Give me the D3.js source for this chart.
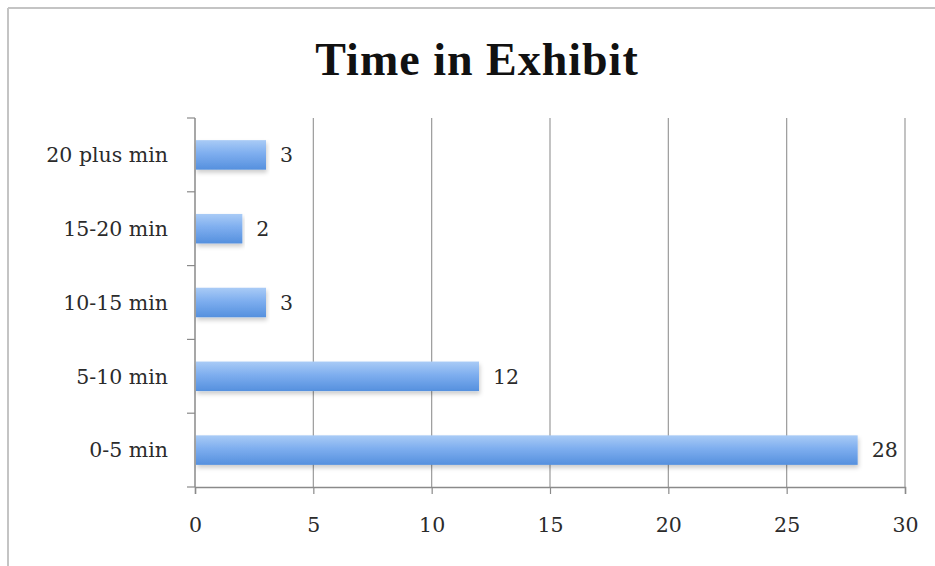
<!DOCTYPE html>
<html>
<head>
<meta charset="utf-8">
<script src="https://cdn.jsdelivr.net/npm/d3@7/dist/d3.min.js"></script>
<style>
  html, body { margin: 0; padding: 0; background: #fff; }
  svg { display: block; }
</style>
</head>
<body>
<script>
// Visitor time spent in the exhibit (counts per duration bucket)
const categories = ["0-5 min", "5-10 min", "10-15 min", "15-20 min", "20 plus min"];
const visitors = [28, 12, 3, 2, 3];
const xTicks = [0, 5, 10, 15, 20, 25, 30];
const title = "Time in Exhibit";

const W = 935, H = 566;
const margin = { left: 195, right: 30, top: 118, bottom: 79 };

const svg = d3.select("body").append("svg")
  .attr("width", W).attr("height", H);

const defs = svg.append("defs");
const grad = defs.append("linearGradient")
  .attr("id", "barFill").attr("x1", 0).attr("y1", 0).attr("x2", 0).attr("y2", 1);
grad.append("stop").attr("offset", "0%").attr("stop-color", "#a9cbf6");
grad.append("stop").attr("offset", "45%").attr("stop-color", "#7eaeef");
grad.append("stop").attr("offset", "100%").attr("stop-color", "#5590de");

const shadow = defs.append("filter").attr("id", "barShadow")
  .attr("x", "-5%").attr("y", "-30%").attr("width", "110%").attr("height", "170%");
shadow.append("feDropShadow")
  .attr("dx", 1).attr("dy", 3).attr("stdDeviation", 2)
  .attr("flood-color", "#000").attr("flood-opacity", 0.2);

// frame edges
svg.append("line").attr("x1", 8).attr("y1", 8).attr("x2", W).attr("y2", 8)
  .attr("stroke", "#c4c4c4").attr("stroke-width", 2);
svg.append("line").attr("x1", 8).attr("y1", 8).attr("x2", 8).attr("y2", H)
  .attr("stroke", "#c4c4c4").attr("stroke-width", 2);

svg.append("text")
  .attr("x", 477).attr("y", 75)
  .attr("text-anchor", "middle")
  .attr("font-family", "'Liberation Serif', 'Times New Roman', serif")
  .attr("font-weight", "bold")
  .attr("font-size", 46)
  .attr("letter-spacing", 1)
  .attr("fill", "#111")
  .text(title);

const x = d3.scaleLinear().domain([0, 30]).range([margin.left, W - margin.right]);
const y = d3.scaleBand().domain(categories.slice().reverse())
  .range([margin.top, H - margin.bottom]).paddingInner(0.6).paddingOuter(0.3);

const labelFont = "'DejaVu Serif', 'Liberation Serif', serif";
const labelSize = 20.5;
const labelColor = "#2b2b2b";

// vertical gridlines
svg.append("g").selectAll("line")
  .data(xTicks.filter(t => t > 0))
  .join("line")
  .attr("x1", d => x(d)).attr("x2", d => x(d))
  .attr("y1", margin.top).attr("y2", H - margin.bottom)
  .attr("stroke", "#9a9a9a").attr("stroke-width", 1.2);

// x axis
const xAxis = svg.append("g")
  .attr("transform", `translate(0,${H - margin.bottom})`)
  .call(d3.axisBottom(x).tickValues(xTicks).tickSize(7).tickPadding(23));
xAxis.select(".domain").attr("stroke", "#8a8a8a").attr("stroke-width", 1.5);
xAxis.selectAll(".tick line").attr("stroke", "#8a8a8a").attr("stroke-width", 1.2);
xAxis.selectAll(".tick text")
  .attr("font-family", labelFont).attr("font-size", labelSize).attr("fill", labelColor);

// y axis with ticks at band boundaries
const yAxis = svg.append("g").attr("transform", `translate(${margin.left},0)`);
yAxis.append("line")
  .attr("x1", 0).attr("x2", 0)
  .attr("y1", margin.top).attr("y2", H - margin.bottom)
  .attr("stroke", "#8a8a8a").attr("stroke-width", 1.5);
const boundaries = d3.range(categories.length + 1)
  .map(i => margin.top + i * (H - margin.top - margin.bottom) / categories.length);
yAxis.selectAll(".btick").data(boundaries).join("line")
  .attr("class", "btick")
  .attr("x1", -8).attr("x2", 0)
  .attr("y1", d => d).attr("y2", d => d)
  .attr("stroke", "#8a8a8a").attr("stroke-width", 1.2);
yAxis.selectAll(".clabel").data(categories).join("text")
  .attr("class", "clabel")
  .attr("x", -27)
  .attr("y", d => y(d) + y.bandwidth() / 2)
  .attr("dy", "0.36em")
  .attr("text-anchor", "end")
  .attr("font-family", labelFont).attr("font-size", labelSize).attr("fill", labelColor)
  .text(d => d);

// bars
svg.append("g").selectAll("rect")
  .data(categories.map((c, i) => ({ c, v: visitors[i] })))
  .join("rect")
  .attr("x", x(0) + 1)
  .attr("y", d => y(d.c))
  .attr("width", d => x(d.v) - x(0) - 1)
  .attr("height", y.bandwidth())
  .attr("fill", "url(#barFill)")
  .attr("filter", "url(#barShadow)");

// value labels
svg.append("g").selectAll("text")
  .data(categories.map((c, i) => ({ c, v: visitors[i] })))
  .join("text")
  .attr("x", d => x(d.v) + 14)
  .attr("y", d => y(d.c) + y.bandwidth() / 2)
  .attr("dy", "0.36em")
  .attr("font-family", labelFont).attr("font-size", labelSize).attr("fill", labelColor)
  .text(d => d.v);
</script>
</body>
</html>
